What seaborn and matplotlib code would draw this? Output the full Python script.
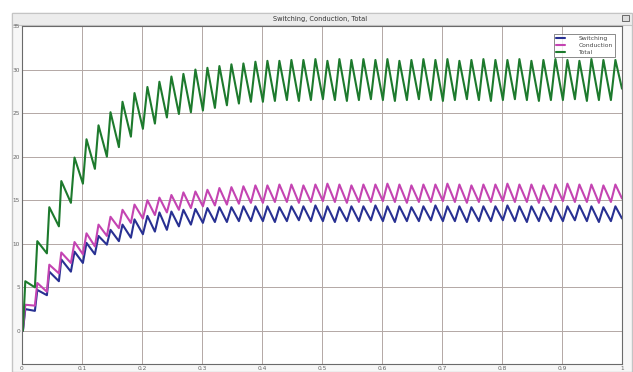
import numpy as np
import pandas as pd
import seaborn as sns
import matplotlib.pyplot as plt
from matplotlib.patches import Rectangle

period = 0.02
series_names = ['Switching', 'Conduction', 'Total']

switching_peaks = [2.5, 4.7, 6.8, 8.2, 9.1, 10.1, 10.9, 11.6, 12.2, 12.8,
                   13.2, 13.6, 13.7, 13.9, 14.0, 14.1, 14.2, 14.2, 14.3, 14.3,
                   14.3, 14.2, 14.3, 14.3, 14.4, 14.3, 14.2, 14.3, 14.3, 14.4,
                   14.3, 14.3, 14.2, 14.3, 14.4, 14.3, 14.3, 14.2, 14.3, 14.3,
                   14.4, 14.3, 14.3, 14.2, 14.3, 14.3, 14.4, 14.3, 14.2, 14.3]
switching_troughs = [0.0, 2.3, 4.1, 5.7, 6.8, 7.8, 8.8, 9.9, 10.3, 10.7,
                     11.1, 11.4, 11.6, 12.0, 12.2, 12.4, 12.5, 12.5, 12.6, 12.6,
                     12.6, 12.5, 12.6, 12.7, 12.6, 12.6, 12.5, 12.6, 12.6, 12.7,
                     12.6, 12.5, 12.6, 12.6, 12.7, 12.6, 12.6, 12.5, 12.6, 12.6,
                     12.7, 12.6, 12.5, 12.6, 12.6, 12.6, 12.7, 12.6, 12.5, 12.6]

conduction_peaks = [3.0, 5.5, 7.6, 9.0, 10.2, 11.2, 12.2, 13.1, 13.9, 14.5,
                    15.0, 15.3, 15.6, 15.9, 16.0, 16.2, 16.4, 16.5, 16.6, 16.7,
                    16.7, 16.8, 16.8, 16.7, 16.8, 16.9, 16.8, 16.7, 16.8, 16.8,
                    16.9, 16.8, 16.7, 16.8, 16.8, 16.9, 16.8, 16.7, 16.8, 16.8,
                    16.9, 16.8, 16.8, 16.7, 16.8, 16.9, 16.8, 16.8, 16.7, 16.8]
conduction_troughs = [0.0, 2.9, 4.5, 6.6, 7.8, 8.8, 9.7, 10.9, 11.8, 12.4,
                      12.9, 13.3, 13.6, 13.9, 14.1, 14.3, 14.4, 14.5, 14.6, 14.7,
                      14.7, 14.8, 14.8, 14.7, 14.8, 14.9, 14.8, 14.7, 14.8, 14.8,
                      14.9, 14.8, 14.7, 14.8, 14.8, 14.9, 14.8, 14.7, 14.8, 14.8,
                      14.9, 14.8, 14.8, 14.7, 14.8, 14.9, 14.8, 14.8, 14.7, 14.8]

total_peaks = [5.7, 10.3, 14.2, 17.2, 19.9, 22.0, 23.6, 25.1, 26.3, 27.3,
               28.0, 28.6, 29.2, 29.5, 30.0, 30.2, 30.4, 30.6, 30.7, 30.9,
               31.0, 31.0, 31.1, 31.1, 31.2, 31.0, 31.2, 31.1, 31.2, 31.1,
               31.2, 31.0, 31.1, 31.2, 31.1, 31.2, 31.0, 31.1, 31.2, 31.1,
               31.1, 31.2, 31.0, 31.1, 31.2, 31.1, 31.0, 31.2, 31.1, 31.1]
total_troughs = [0.0, 5.0, 8.9, 12.0, 14.7, 16.9, 18.6, 20.0, 21.1, 22.3,
                 23.2, 23.8, 24.5, 24.9, 25.1, 25.3, 25.6, 25.9, 26.1, 26.3,
                 26.3, 26.4, 26.5, 26.4, 26.5, 26.6, 26.5, 26.4, 26.5, 26.6,
                 26.5, 26.4, 26.5, 26.6, 26.5, 26.4, 26.5, 26.6, 26.5, 26.4,
                 26.5, 26.6, 26.5, 26.4, 26.5, 26.5, 26.6, 26.4, 26.5, 26.5]

end_values = [12.9, 15.2, 27.8]   # value at t = 1 s, still falling

peaks = [switching_peaks, conduction_peaks, total_peaks]
troughs = [switching_troughs, conduction_troughs, total_troughs]

rows = []
for name, pk, tr, end in zip(series_names, peaks, troughs, end_values):
    rows.append((0.0, 0.0, name))
    for k in range(len(pk)):
        # early cycles jump up almost vertically, later ones rise more slowly
        if k < 4:
            rise = 0.004
        elif k < 10:
            rise = 0.006
        else:
            rise = 0.0075
        rows.append((k * period + 0.0015, tr[k], name))
        rows.append((k * period + 0.0015 + rise, pk[k], name))
    rows.append((1.0, end, name))
df = pd.DataFrame(rows, columns=['time', 'value', 'signal'])

colors = {'Switching': '#283092', 'Conduction': '#c444b2', 'Total': '#1d7a2d'}

sns.set_style('white')
plt.rcParams['font.family'] = ['DejaVu Sans']

fig = plt.figure(figsize=(6.33, 3.72), dpi=100)

# scope window frame + title bar
fig.patches.append(Rectangle((12 / 633, 0), 620 / 633, 1 - 13 / 372, transform=fig.transFigure,
                             facecolor='#f7f7f7', edgecolor='#c4c4c4', lw=1, zorder=-5))
fig.patches.append(Rectangle((12 / 633, 1 - 25 / 372), 620 / 633, 12 / 372, transform=fig.transFigure,
                             facecolor='#ececec', edgecolor='#c4c4c4', lw=0.8, zorder=-4))
fig.patches.append(Rectangle((622 / 633, 1 - 21 / 372), 7 / 633, 6 / 372, transform=fig.transFigure,
                             facecolor='#dcdcdc', edgecolor='#555555', lw=0.6, zorder=-3))
fig.text(0.506, 1 - 19 / 372, 'Switching, Conduction, Total', ha='center', va='center',
         fontsize=4.8, color='#333333')

ax = fig.add_axes([22 / 633, 8 / 372, 600 / 633, 338 / 372])
ax.set_zorder(5)
ax.set_facecolor('white')

sns.lineplot(data=df, x='time', y='value', hue='signal', hue_order=series_names,
             palette=colors, lw=1.5, sort=False, estimator=None, ax=ax)

ax.set_xlim(0, 1)
ax.set_ylim(-3.8, 35)
ax.set_xticks(np.arange(0, 1.01, 0.1))
ax.set_xticklabels(['0', '0.1', '0.2', '0.3', '0.4', '0.5', '0.6', '0.7', '0.8', '0.9', '1'])
ax.set_yticks([0, 5, 10, 15, 20, 25, 30, 35])
ax.tick_params(labelsize=4.2, colors='#666666', length=2, width=0.5, pad=1.5, direction='in')
ax.grid(True, color='#b3a8a5', lw=0.7)
ax.set_axisbelow(True)
ax.set_xlabel('')
ax.set_ylabel('')
for s in ax.spines.values():
    s.set_color('#6a6a6a')
    s.set_linewidth(0.8)

leg = ax.legend(loc='upper right', bbox_to_anchor=(0.993, 0.985), fontsize=4.3,
                frameon=True, fancybox=False, handlelength=1.6, handletextpad=2.2,
                borderpad=0.35, labelspacing=0.25)
leg.get_frame().set_edgecolor('#555555')
leg.get_frame().set_linewidth(0.6)
for t in leg.get_texts():
    t.set_color('#444444')

fig.savefig('out.png', dpi=100)
